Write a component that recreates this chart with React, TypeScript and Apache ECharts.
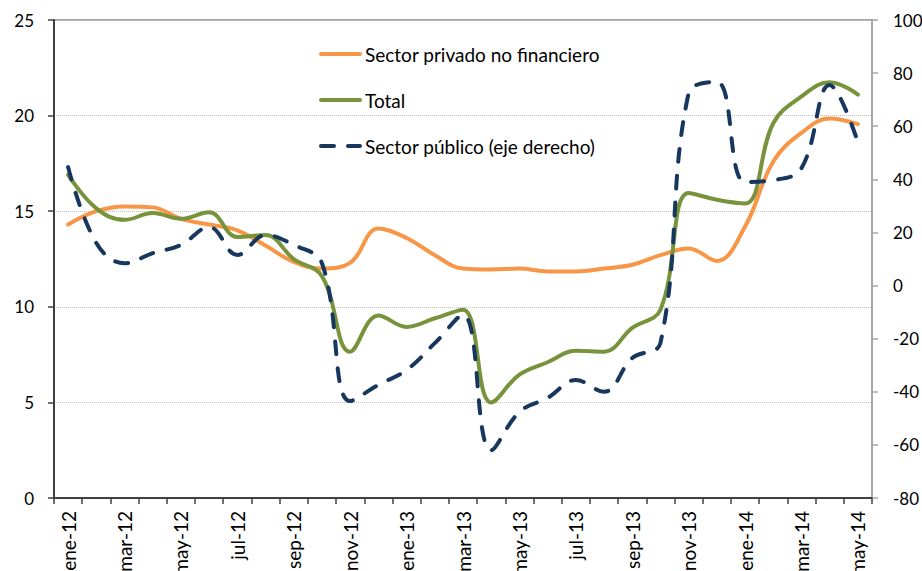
import React, { useEffect, useRef } from 'react';
import * as echarts from 'echarts';

const categories = [
  'ene-12', 'feb-12', 'mar-12', 'abr-12', 'may-12', 'jun-12', 'jul-12', 'ago-12', 'sep-12', 'oct-12', 'nov-12', 'dic-12',
  'ene-13', 'feb-13', 'mar-13', 'abr-13', 'may-13', 'jun-13', 'jul-13', 'ago-13', 'sep-13', 'oct-13', 'nov-13', 'dic-13',
  'ene-14', 'feb-14', 'mar-14', 'abr-14', 'may-14',
];

const privado = [14.3, 15.0, 15.25, 15.2, 14.6, 14.3, 14.0, 13.2, 12.35, 12.0, 12.3, 14.1, 13.6, 12.7, 12.0, 11.95, 12.0, 11.85, 11.85, 12.0, 12.2, 12.7, 13.05, 12.4, 14.2, 17.6, 19.1, 19.85, 19.55];
const total = [16.9, 15.15, 14.55, 14.9, 14.6, 14.95, 13.65, 13.75, 12.5, 11.6, 7.65, 9.55, 8.95, 9.4, 9.85, 5.0, 6.45, 7.1, 7.7, 7.65, 8.9, 9.85, 15.95, 15.6, 15.4, 19.6, 21.0, 21.75, 21.1];
const publico = [44.6, 16, 8.4, 12.2, 15.3, 22, 11.5, 19, 15.3, 8.4, -43.5, -37.4, -31.8, -21.7, -11, -62, -47.6, -42.3, -35.6, -40, -27.3, -21.6, 72.5, 76.7, 39, 39.7, 44.2, 75.5, 54];

const seriesNames = ['Sector privado no financiero', 'Total', 'Sector público (eje derecho)'];

const FONT = 'Lato, "Liberation Sans", sans-serif';

export default function App() {
  const ref = useRef<HTMLDivElement>(null);
  useEffect(() => {
    if (!ref.current) return;
    const chart = echarts.init(ref.current, undefined, { renderer: 'svg' });
    chart.setOption({
      animation: false,
      backgroundColor: '#ffffff',
      textStyle: { fontFamily: FONT },
      grid: {
        left: 54, right: 50, top: 20, bottom: 73,
        outerBoundsMode: 'none',
        containLabel: false,
        show: true, borderColor: '#a6a6a6', borderWidth: 2, backgroundColor: 'transparent',
      },
      legend: {
        orient: 'vertical',
        left: 319,
        top: 44,
        padding: 0,
        itemWidth: 39,
        itemHeight: 20,
        itemGap: 26,
        data: seriesNames,
        itemStyle: { opacity: 0 },
        lineStyle: { width: 4, cap: 'round' },
        textStyle: { fontSize: 19, lineHeight: 20, color: '#000', fontFamily: FONT },
      },
      xAxis: {
        type: 'category',
        data: categories,
        boundaryGap: true,
        axisLine: { lineStyle: { color: '#404040', width: 2 } },
        axisTick: { show: true, interval: 0, length: 6, lineStyle: { color: '#404040', width: 1.5 } },
        axisLabel: { interval: 1, rotate: 90, fontSize: 19, color: '#000', margin: 13, fontFamily: FONT },
        splitLine: { show: false },
      },
      yAxis: [
        {
          type: 'value', min: 0, max: 25, interval: 5,
          axisLine: { show: true, lineStyle: { color: '#404040', width: 2 } },
          axisTick: { show: true, length: 6, lineStyle: { color: '#404040', width: 1.5 } },
          axisLabel: { fontSize: 17, color: '#000', margin: 20, fontFamily: FONT },
          splitLine: { show: true, lineStyle: { color: '#bfbfbf', type: 'dotted', width: 1 } },
        },
        {
          type: 'value', min: -80, max: 100, interval: 20, position: 'right',
          axisLine: { show: true, lineStyle: { color: '#a6a6a6', width: 2 } },
          axisTick: { show: true, length: 6, lineStyle: { color: '#a6a6a6', width: 1.5 } },
          axisLabel: { fontSize: 17, color: '#000', margin: 21, fontFamily: FONT },
          splitLine: { show: false },
        },
      ],
      series: [
        {
          name: seriesNames[0], type: 'line', data: privado, yAxisIndex: 0,
          smooth: 0.4, symbol: 'none', z: 3,
          lineStyle: { color: '#F79646', width: 4, cap: 'round' }, itemStyle: { color: '#F79646' },
        },
        {
          name: seriesNames[1], type: 'line', data: total, yAxisIndex: 0,
          smooth: 0.4, symbol: 'none', z: 4,
          lineStyle: { color: '#77933C', width: 4, cap: 'round' }, itemStyle: { color: '#77933C' },
        },
        {
          name: seriesNames[2], type: 'line', data: publico, yAxisIndex: 1,
          smooth: 0.4, symbol: 'none', z: 5,
          lineStyle: { color: '#17375E', width: 4, type: [13, 14], cap: 'round' }, itemStyle: { color: '#17375E' },
        },
      ],
    });
    return () => chart.dispose();
  }, []);
  return <div ref={ref} style={{ position: 'fixed', left: 0, top: 0, width: 922, height: 571 }} />;
}
